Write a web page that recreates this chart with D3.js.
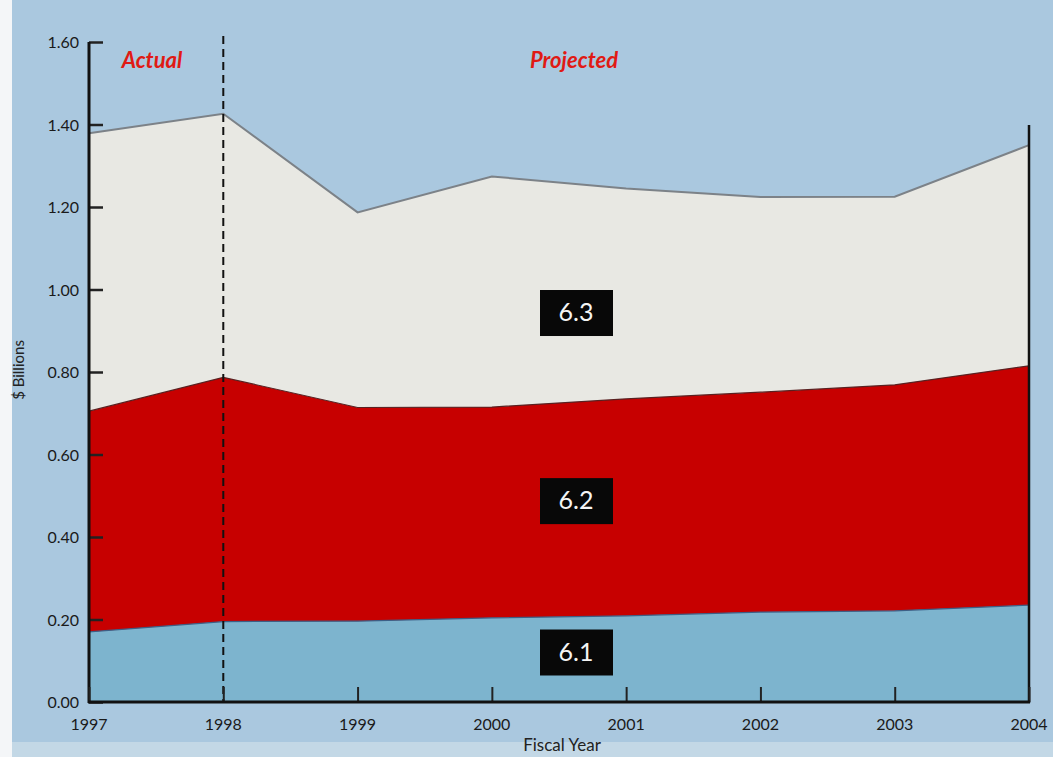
<!DOCTYPE html>
<html>
<head>
<meta charset="utf-8">
<script src="https://cdn.jsdelivr.net/npm/d3@7"></script>
<style>
	body { margin: 0; background: #fff; }
	svg { display: block; font-family: Lato, "Open Sans", sans-serif; }
</style>
</head>
<body>
<div class="chart"></div>
<script>
// fiscal years and stacked series ($ billions)
var years = [1997, 1998, 1999, 2000, 2001, 2002, 2003, 2004];
var s61 = [0.170, 0.195, 0.196, 0.204, 0.209, 0.218, 0.221, 0.235];
var s62 = [0.535, 0.592, 0.518, 0.511, 0.526, 0.533, 0.548, 0.580];
var s63 = [0.674, 0.639, 0.473, 0.559, 0.510, 0.473, 0.456, 0.535];
var seriesNames = ['6.1', '6.2', '6.3'];
var yTicks = [0, 0.2, 0.4, 0.6, 0.8, 1.0, 1.2, 1.4, 1.6];

var w = 1053, h = 757;
var margin = {left: 89, right: 24, top: 42, bottom: 55};

var svg = d3.select('.chart')
	.append('svg')
	.attr('width', w)
	.attr('height', h);

// page background
svg.append('rect').attr('width', w).attr('height', h).attr('fill', '#aac8df');
svg.append('rect').attr('width', 12).attr('height', h).attr('fill', '#f4f6f8');
svg.append('rect').attr('x', 12).attr('y', 742).attr('width', w).attr('height', 15).attr('fill', '#c3d8e6');

var x = d3.scaleLinear()
	.domain([1997, 2004])
	.range([margin.left, w - margin.right]);

var y = d3.scaleLinear()
	.domain([0, 1.6])
	.range([h - margin.bottom, margin.top]);

var rows = years.map(function(yr, i){
	return {year: yr, '6.1': s61[i], '6.2': s62[i], '6.3': s63[i]};
});

var stack = d3.stack().keys(seriesNames);
var layers = stack(rows);

var colors = {'6.1': '#7db4ce', '6.2': '#c70000', '6.3': '#e8e8e3'};
var edges = {'6.1': '#3d5f86', '6.2': '#5a2020', '6.3': '#7c8288'};

var area = d3.area()
	.x(function(d){ return x(d.data.year); })
	.y0(function(d){ return y(d[0]); })
	.y1(function(d){ return y(d[1]); });

var topLine = d3.line()
	.x(function(d){ return x(d.data.year); })
	.y(function(d){ return y(d[1]); });

svg.selectAll('path.layer')
	.data(layers)
	.enter()
	.append('path')
	.attr('class', 'layer')
	.attr('d', area)
	.attr('fill', function(d){ return colors[d.key]; });

svg.selectAll('path.edge')
	.data(layers)
	.enter()
	.append('path')
	.attr('class', 'edge')
	.attr('d', topLine)
	.attr('fill', 'none')
	.attr('stroke', function(d){ return edges[d.key]; })
	.attr('stroke-width', function(d){ return d.key == '6.3' ? 2 : 1.2; });

// actual / projected divider
svg.append('line')
	.attr('x1', x(1998)).attr('x2', x(1998))
	.attr('y1', 36).attr('y2', y(0))
	.attr('stroke', '#111')
	.attr('stroke-width', 2)
	.attr('stroke-dasharray', '8,5');

// y axis
var yAxis = d3.axisRight(y)
	.tickValues(yTicks)
	.tickSize(14)
	.tickFormat('');
var ya = svg.append('g')
	.attr('transform', 'translate(' + margin.left + ',0)')
	.call(yAxis);
ya.select('.domain').remove();
ya.selectAll('.tick line').attr('stroke', '#222').attr('stroke-width', 2.5);

svg.selectAll('text.ylab')
	.data(yTicks)
	.enter()
	.append('text')
	.attr('class', 'ylab')
	.attr('x', 79)
	.attr('y', function(d){ return y(d) + 6; })
	.attr('text-anchor', 'end')
	.attr('font-size', 16)
	.attr('fill', '#1a1a1a')
	.text(function(d){ return d3.format('.2f')(d); });

svg.append('line')
	.attr('x1', margin.left).attr('x2', margin.left)
	.attr('y1', y(1.6)).attr('y2', y(0) + 1)
	.attr('stroke', '#111').attr('stroke-width', 3);

svg.append('line')
	.attr('x1', x(2004)).attr('x2', x(2004))
	.attr('y1', 125).attr('y2', y(0) + 1)
	.attr('stroke', '#111').attr('stroke-width', 2.5);

// x axis
var xAxis = d3.axisTop(x)
	.tickValues(years)
	.tickSize(15)
	.tickFormat('');
var xa = svg.append('g')
	.attr('transform', 'translate(0,' + y(0) + ')')
	.call(xAxis);
xa.select('.domain').remove();
xa.selectAll('.tick line').attr('stroke', '#222').attr('stroke-width', 2);

svg.append('line')
	.attr('x1', margin.left - 1).attr('x2', x(2004) + 1)
	.attr('y1', y(0)).attr('y2', y(0))
	.attr('stroke', '#111').attr('stroke-width', 3);

svg.selectAll('text.xlab')
	.data(years)
	.enter()
	.append('text')
	.attr('class', 'xlab')
	.attr('x', function(d){ return x(d); })
	.attr('y', 730)
	.attr('text-anchor', 'middle')
	.attr('font-size', 16)
	.attr('fill', '#1a1a1a')
	.text(function(d){ return d; });

svg.append('text')
	.attr('x', 562)
	.attr('y', 751)
	.attr('text-anchor', 'middle')
	.attr('font-size', 17)
	.attr('fill', '#222')
	.text('Fiscal Year');

svg.append('text')
	.attr('transform', 'translate(24,370) rotate(-90)')
	.attr('text-anchor', 'middle')
	.attr('font-size', 15)
	.attr('fill', '#222')
	.text('$ Billions');

// period labels
svg.append('text')
	.attr('x', 152).attr('y', 68)
	.attr('text-anchor', 'middle')
	.attr('font-size', 22)
	.attr('font-style', 'italic')
	.attr('font-weight', 'bold')
	.attr('fill', '#e01a14')
	.text('Actual');

svg.append('text')
	.attr('x', 574).attr('y', 68)
	.attr('text-anchor', 'middle')
	.attr('font-size', 22)
	.attr('font-style', 'italic')
	.attr('font-weight', 'bold')
	.attr('fill', '#e01a14')
	.text('Projected');

// series tags
var tagY = {'6.1': 0.12, '6.2': 0.487, '6.3': 0.943};
var tags = svg.selectAll('g.tag')
	.data(seriesNames)
	.enter()
	.append('g')
	.attr('class', 'tag')
	.attr('transform', function(d){ return 'translate(576,' + y(tagY[d]) + ')'; });

tags.append('rect')
	.attr('x', -36).attr('y', -23)
	.attr('width', 73).attr('height', 46)
	.attr('fill', '#080808');

tags.append('text')
	.attr('text-anchor', 'middle')
	.attr('y', 8)
	.attr('font-size', 25)
	.attr('fill', '#f4f4f4')
	.text(function(d){ return d; });
</script>
</body>
</html>
